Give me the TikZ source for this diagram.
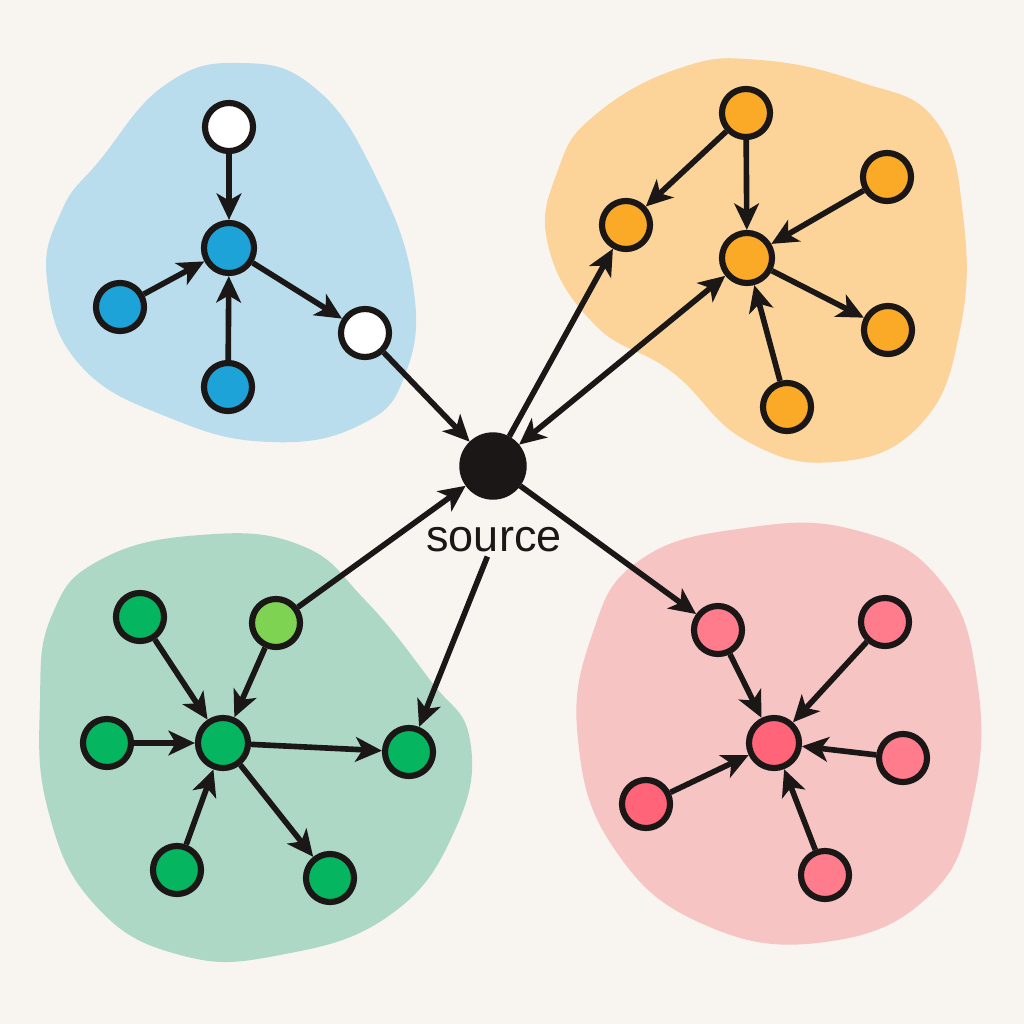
\documentclass[tikz,border=0pt]{standalone}
\usepackage{fontspec}
\setmainfont{Liberation Sans}
\usetikzlibrary{arrows.meta}
\definecolor{bg}{HTML}{F8F5F1}
\definecolor{ink}{HTML}{1A1716}
\definecolor{blobblue}{HTML}{B9DDEC}
\definecolor{bloborange}{HTML}{FCD49A}
\definecolor{blobgreen}{HTML}{AED8C6}
\definecolor{blobred}{HTML}{F7C4C4}
\definecolor{nblue}{HTML}{1DA3D8}
\definecolor{norange}{HTML}{FBAA28}
\definecolor{ngreen}{HTML}{05B560}
\definecolor{nlime}{HTML}{7ED352}
\definecolor{nred}{HTML}{FF6479}
\definecolor{nredl}{HTML}{FF7C8C}
\begin{document}
\begin{tikzpicture}[x=0.01cm,y=-0.01cm,
  nd/.style={circle, draw=ink, line width=1.75pt, minimum size=0.48cm, inner sep=0pt},
  ndc/.style={nd, minimum size=0.50cm},
  src/.style={circle, fill=ink, draw=ink, minimum size=0.66cm, inner sep=0pt},
  tip/.style={Stealth[length=7.5pt,width=7pt,inset=2pt]},
  edge/.style={draw=ink, line width=1.6pt, -{Stealth[length=7.5pt,width=7pt,inset=2pt]}},
  bedge/.style={draw=ink, line width=1.6pt, {Stealth[length=7.5pt,width=7pt,inset=2pt]}-{Stealth[length=7.5pt,width=7pt,inset=2pt]}}]
\fill[bg] (0,0) rectangle (1024,1024);
\useasboundingbox (0,0) rectangle (1024,1024);

% blobs
\fill[blobblue] plot[smooth cycle, tension=0.75] coordinates {(100,160) (165,85) (240,63) (315,88) (375,175) (413,285) (405,375) (360,425) (270,442) (170,418) (80,365) (47,280) (62,210)};
\fill[bloborange] plot[smooth cycle, tension=0.75] coordinates {(595,115) (680,68) (760,60) (860,82) (935,120) (963,215) (960,330) (920,425) (835,462) (745,440) (672,372) (595,325) (548,245) (558,170)};
\fill[blobgreen] plot[smooth cycle, tension=0.75] coordinates {(100,560) (200,535) (300,545) (365,600) (430,680) (470,740) (455,830) (390,915) (280,955) (180,955) (95,905) (48,810) (40,700) (52,615)};
\fill[blobred] plot[smooth cycle, tension=0.75] coordinates {(640,560) (745,528) (855,530) (940,580) (977,680) (973,800) (930,895) (825,942) (705,925) (615,850) (578,740) (592,635)};

% source
\node[src] (s) at (493,466) {};
\node[font=\fontsize{12.8}{15}\selectfont, text=ink, inner sep=1pt] (lbl) at (494,540) {source};

% blue cluster
\node[nd, fill=white] (b-t) at (229,127) {};
\node[ndc, fill=nblue] (b-c) at (229,248) {};
\node[nd, fill=nblue] (b-l) at (120,307) {};
\node[nd, fill=nblue] (b-b) at (228,387) {};
\node[nd, fill=white] (b-r) at (365,333) {};

% orange cluster
\node[nd, fill=norange] (o-t) at (746,113) {};
\node[nd, fill=norange] (o-l) at (626,225) {};
\node[ndc, fill=norange] (o-c) at (747,258) {};
\node[nd, fill=norange] (o-ur) at (887,177) {};
\node[nd, fill=norange] (o-r) at (888,330) {};
\node[nd, fill=norange] (o-b) at (787,407) {};

% green cluster
\node[nd, fill=ngreen] (g-tl) at (140,617) {};
\node[nd, fill=nlime] (g-lm) at (276,623) {};
\node[nd, fill=ngreen] (g-l) at (107,743) {};
\node[ndc, fill=ngreen] (g-c) at (223,743) {};
\node[nd, fill=ngreen] (g-r) at (409,752) {};
\node[nd, fill=ngreen] (g-b) at (177,870) {};
\node[nd, fill=ngreen] (g-br) at (330,878) {};

% red cluster
\node[nd, fill=nredl] (r-tl) at (718,630) {};
\node[nd, fill=nredl] (r-tr) at (885,622) {};
\node[ndc, fill=nred] (r-c) at (774,743) {};
\node[nd, fill=nredl] (r-r) at (903,758) {};
\node[nd, fill=nred] (r-l) at (646,804) {};
\node[nd, fill=nredl] (r-b) at (825,875) {};

% blue edges
\draw[edge] (b-t) -- (b-c);
\draw[edge] (b-l) -- (b-c);
\draw[edge] (b-b) -- (b-c);
\draw[edge] (b-c) -- (b-r);
\draw[edge] (b-r) -- (s);

% orange edges
\draw[edge] (o-t) -- (o-l);
\draw[edge] (o-t) -- (o-c);
\draw[edge] (o-ur) -- (o-c);
\draw[edge] (o-c) -- (o-r);
\draw[edge] (o-b) -- (o-c);
\draw[edge] (s) -- (o-l);
\draw[bedge] (s) -- (o-c);

% green edges
\draw[edge] (g-tl) -- (g-c);
\draw[edge] (g-lm) -- (g-c);
\draw[edge] (g-l) -- (g-c);
\draw[edge] (g-b) -- (g-c);
\draw[edge] (g-c) -- (g-r);
\draw[edge] (g-c) -- (g-br);
\draw[edge] (g-lm) -- (s);
\draw[edge] (lbl) -- (g-r);

% red edges
\draw[edge] (r-tl) -- (r-c);
\draw[edge] (r-tr) -- (r-c);
\draw[edge] (r-r) -- (r-c);
\draw[edge] (r-l) -- (r-c);
\draw[edge] (r-b) -- (r-c);
\draw[edge] (s) -- (r-tl);
\end{tikzpicture}
\end{document}
